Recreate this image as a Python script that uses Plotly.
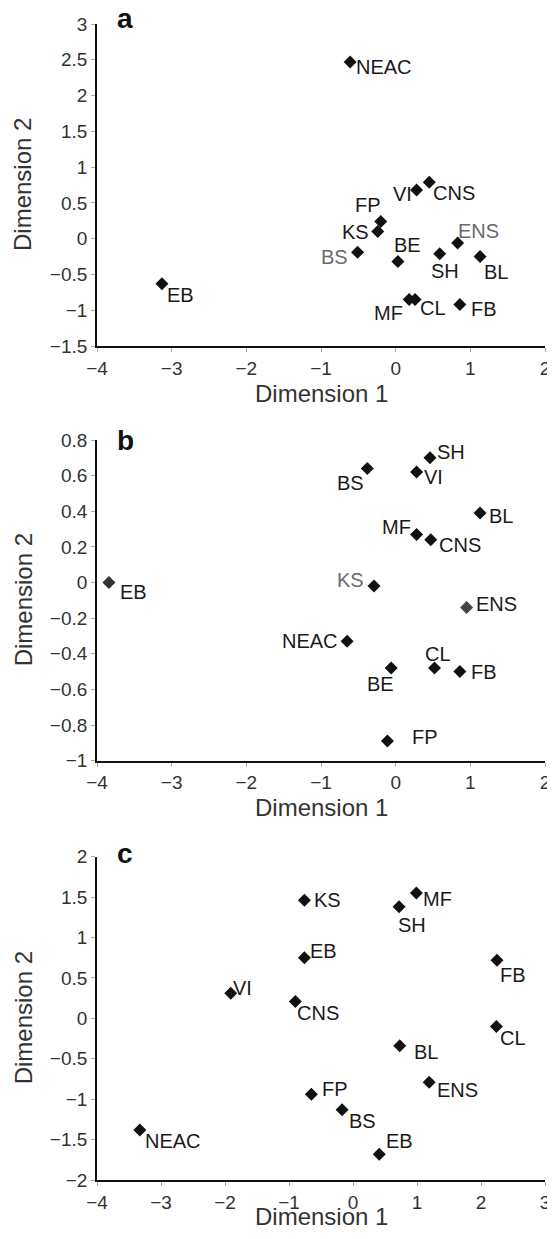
import plotly.graph_objects as go

# ---------------- data ----------------
# Panel a
a_names = ["NEAC", "EB", "VI", "CNS", "FP", "KS", "BS", "BE", "SH", "ENS", "BL", "MF", "CL", "FB"]
a_x = [-0.61, -3.13, 0.28, 0.45, -0.20, -0.24, -0.51, 0.03, 0.59, 0.83, 1.13, 0.18, 0.26, 0.86]
a_y = [2.47, -0.63, 0.68, 0.79, 0.24, 0.10, -0.19, -0.32, -0.21, -0.06, -0.25, -0.85, -0.85, -0.92]

# Panel b
b_names = ["SH", "BS", "VI", "BL", "MF", "CNS", "EB", "KS", "ENS", "NEAC", "BE", "CL", "FB", "FP"]
b_x = [0.46, -0.38, 0.28, 1.13, 0.28, 0.47, -3.84, -0.29, 0.95, -0.65, -0.06, 0.52, 0.86, -0.11]
b_y = [0.70, 0.64, 0.62, 0.39, 0.27, 0.24, 0.00, -0.02, -0.14, -0.33, -0.48, -0.48, -0.50, -0.89]

# Panel c
c_names = ["KS", "MF", "SH", "EB", "FB", "VI", "CNS", "CL", "BL", "ENS", "FP", "BS", "NEAC", "EB"]
c_x = [-0.76, 0.99, 0.72, -0.76, 2.25, -1.91, -0.90, 2.24, 0.73, 1.19, -0.65, -0.17, -3.33, 0.41]
c_y = [1.46, 1.55, 1.38, 0.75, 0.72, 0.31, 0.21, -0.10, -0.34, -0.79, -0.94, -1.13, -1.38, -1.68]

panel_letters = ["a", "b", "c"]
x_title = "Dimension 1"
y_title = "Dimension 2"

# ---------------- label placement (style: pixel offsets, anchor, colour) ----------------
# (xanchor, dx, dy) dy positive = downward
GREY = "#6a6a6a"
a_lab = [("left", 5, 5), ("left", 4, 11), ("right", -4, 4), ("left", 3, 11), ("center", -13, -16),
         ("right", -8, 0), ("right", -9, 5), ("center", 10, -17), ("center", 5, 17), ("left", -1, -12),
         ("left", 3, 15), ("right", -5, 14), ("left", 4, 9), ("left", 10, 4)]
a_col = {6: GREY, 9: GREY}
a_mcol = {}
b_lab = [("left", 6, -6), ("right", -2, 14), ("left", 6, 5), ("left", 8, 3), ("right", -5, -7),
         ("left", 7, 5), ("left", 10, 9), ("right", -9, -6), ("left", 8, -3), ("right", -8, 0),
         ("center", -11, 16), ("center", 4, -14), ("left", 10, 0), ("left", 24, -4)]
b_col = {7: GREY}
b_mcol = {6: "#333333", 8: "#444444"}
c_lab = [("left", 9, 0), ("left", 6, 6), ("center", 13, 18), ("left", 5, -7), ("left", 2, 15),
         ("left", 1, -5), ("left", 1, 12), ("left", 3, 12), ("left", 13, 6), ("left", 7, 8),
         ("left", 10, -5), ("left", 6, 11), ("left", 4, 11), ("left", 6, -13)]
c_col = {}
c_mcol = {}

# page is drawn inside an 8px body margin: work in page pixels, convert to figure pixels
OFF = 8
W, H = 555 - OFF, 1239 - 2 * OFF
FONT = "Liberation Sans, Arial, Helvetica, sans-serif"


def px(xp):
    return (xp - OFF) / W


def py(yp):
    return 1 - (yp - OFF) / H


# pixel geometry (page coordinates) of the three plot areas
xl, xr = 97.0, 545.0
panels = [
    dict(names=a_names, x=a_x, y=a_y, lab=a_lab, col=a_col, mcol=a_mcol, xr=[-4, 2], yr=[-1.5, 3],
         dy=0.5, top=24.0, bot=346.0, letter_pos=(125, 19), xt_y=393),
    dict(names=b_names, x=b_x, y=b_y, lab=b_lab, col=b_col, mcol=b_mcol, xr=[-4, 2], yr=[-1, 0.8],
         dy=0.2, top=440.0, bot=760.7, letter_pos=(125, 441), xt_y=807),
    dict(names=c_names, x=c_x, y=c_y, lab=c_lab, col=c_col, mcol=c_mcol, xr=[-4, 3], yr=[-2, 2],
         dy=0.5, top=856.7, bot=1180.0, letter_pos=(125, 853.5), xt_y=1216),
]

fig = go.Figure()
annotations = []
for i, p in enumerate(panels):
    k = "" if i == 0 else str(i + 1)
    xa, ya = "x" + k, "y" + k
    mcolors = [p["mcol"].get(j, "#111111") for j in range(len(p["names"]))]
    fig.add_trace(go.Scatter(
        x=p["x"], y=p["y"], mode="markers", xaxis=xa, yaxis=ya,
        marker=dict(symbol="diamond", size=10, color=mcolors),
        hoverinfo="text", text=p["names"], showlegend=False, cliponaxis=False))
    for j, nm in enumerate(p["names"]):
        anc, dx, dy = p["lab"][j]
        annotations.append(dict(
            x=p["x"][j], y=p["y"][j], xref=xa, yref=ya, text=nm, showarrow=False,
            xanchor=anc, yanchor="middle", xshift=dx, yshift=-dy, borderpad=0,
            font=dict(family=FONT, size=20, color=p["col"].get(j, "#1a1a1a"))))
    lx, ly = p["letter_pos"]
    annotations.append(dict(
        x=px(lx), y=py(ly), xref="paper", yref="paper", text="<b>%s</b>" % panel_letters[i],
        showarrow=False, xanchor="center", yanchor="middle",
        font=dict(family=FONT, size=28, color="#111111")))
    # axis titles
    annotations.append(dict(
        x=px((xl + xr) / 2), y=py(p["xt_y"]), xref="paper", yref="paper", text=x_title,
        showarrow=False, xanchor="center", yanchor="middle", borderpad=0,
        font=dict(family=FONT, size=24, color="#333333")))
    annotations.append(dict(
        x=px(23), y=py((p["top"] + p["bot"]) / 2), xref="paper", yref="paper", text=y_title,
        showarrow=False, xanchor="center", yanchor="middle", textangle=-90,
        font=dict(family=FONT, size=24, color="#333333")))
    common = dict(showgrid=False, zeroline=False, showline=True, linecolor="#111111", linewidth=1.8,
                  ticks="outside", ticklen=4, tickwidth=1, tickcolor="#aaaaaa", automargin=False,
                  tickfont=dict(family=FONT, size=19, color="#333333"), mirror=False, fixedrange=True)
    fig.update_layout(**{
        ("xaxis" + k): dict(common, domain=[px(xl), px(xr)], range=p["xr"], dtick=1, tick0=0,
                            anchor=ya),
        ("yaxis" + k): dict(common, domain=[py(p["bot"]), py(p["top"])], range=p["yr"],
                            dtick=p["dy"], tick0=0, anchor=xa),
    })

fig.update_layout(
    width=W, height=H, margin=dict(l=0, r=0, t=0, b=0, autoexpand=False),
    plot_bgcolor="white", paper_bgcolor="white",
    annotations=annotations, font=dict(family=FONT),
)
fig.write_html("out.html")
